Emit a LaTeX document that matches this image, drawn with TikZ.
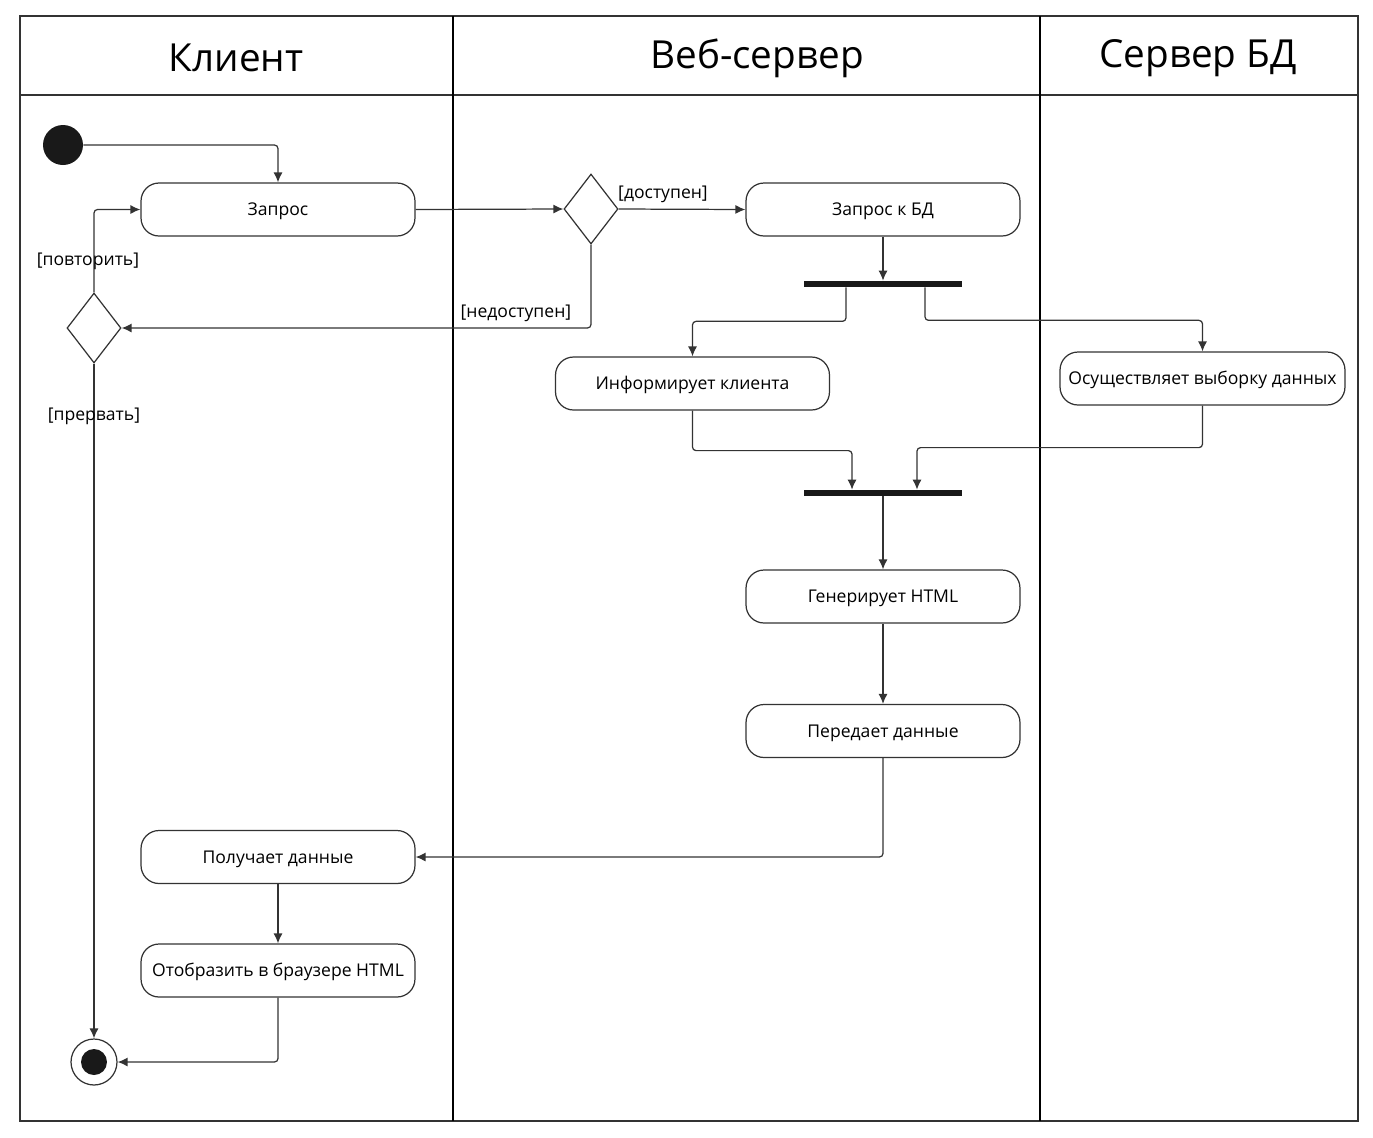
\documentclass[tikz,border=0pt]{standalone}
\usepackage{fontspec}
\setmainfont{Open Sans}
\usetikzlibrary{arrows.meta, positioning, shapes.geometric, calc}

\begin{document}
\begin{tikzpicture}[
    x=0.02cm, y=-0.02cm,
    action/.style={rectangle, rounded corners=0.36cm, draw=linecolor, line width=0.7pt, minimum width=5.48cm, minimum height=1.06cm, inner sep=1pt, text height=0.72em, text depth=0pt, font=\fontsize{10}{12}\selectfont},
    decision/.style={diamond, draw=linecolor, line width=0.7pt, minimum width=1.08cm, minimum height=1.4cm, inner sep=0pt},
    bar/.style={rectangle, fill=barcolor, minimum width=3.16cm, minimum height=0.12cm, inner sep=0pt},
    startnode/.style={circle, fill=barcolor, minimum size=0.8cm, inner sep=0pt},
    endnode/.style={circle, draw=linecolor, line width=0.7pt, minimum size=0.92cm, inner sep=0pt, path picture={\fill[barcolor] (path picture bounding box.center) circle (0.26cm);}},
    arrow/.style={-{Latex[length=2mm, width=1.8mm]}, line width=0.7pt, draw=linecolor, rounded corners=2pt},
    guard/.style={font=\fontsize{10}{12}\selectfont, text=black},
    header/.style={font=\fontsize{22}{26}\selectfont},
    lane/.style={line width=1.3pt, black},
    frame/.style={line width=0.9pt, black!80}
]

% Colors
\definecolor{linecolor}{RGB}{51, 51, 51}
\definecolor{barcolor}{RGB}{25, 25, 25}

\useasboundingbox (0,0) rectangle (1373,1137);

% Swimlanes
\draw[frame] (20,16) rectangle (1358,1121);
\draw[frame] (20,95) -- (1358,95);
\draw[lane] (453,16) -- (453,1121);
\draw[lane] (1040,16) -- (1040,1121);

\node[header] (hclient) at (236,58) {Клиент};
\node[header] (hweb) at (757,58) {Веб-сервер};
\node[header] (hdb) at (1198,58) {Сервер БД};

% Client lane
\node[startnode] (start) at (63,145) {};
\node[action] (request) at (278,209.5) {Запрос};
\node[decision] (retry) at (94,328) {};
\node[action] (receive) at (278,857) {Получает данные};
\node[action] (display) at (278,970.5) {Отобразить в браузере HTML};
\node[endnode] (finish) at (94,1062) {};

% Web server lane
\node[decision] (check) at (591,209) {};
\node[action] (dbquery) at (883,209.5) {Запрос к БД};
\node[bar] (fork) at (883,284) {};
\node[action] (inform) at (692.5,383.5) {Информирует клиента};
\node[bar] (join) at (883,493) {};
\node[action] (genhtml) at (883,596.5) {Генерирует HTML};
\node[action] (send) at (883,731) {Передает данные};

% DB server lane
\node[action, minimum width=5.7cm] (select) at (1202.5,378.5) {Осуществляет выборку данных};

% Flows
\draw[arrow] (start.east) -| (request.north);
\draw[arrow] (request.east) -- (check.west);
\draw[arrow] (check.east) -- node[guard, pos=0.35, above] (lavail) {[доступен]} (dbquery.west);
\draw[arrow] (check.south) |- node[guard, pos=0.58, above] (lnotavail) {[недоступен]} (retry.east);
\draw[arrow] (retry.north) |- node[guard, pos=0.19, xshift=-0.12cm] (lretry) {[повторить]} (request.west);
\draw[arrow] (retry.south) -- node[guard, pos=0.078] (labort) {[прервать]} (finish.north);
\draw[arrow] (dbquery.south) -- (fork.north);
\draw[arrow] ([xshift=-0.74cm]fork.south) -- ++(0,34) -| (inform.north);
\draw[arrow] ([xshift=0.84cm]fork.south) -- ++(0,33) -| (select.north);
\draw[arrow] (inform.south) -- ++(0,40) -| ([xshift=-0.62cm]join.north);
\draw[arrow] (select.south) -- ++(0,42) -| ([xshift=0.68cm]join.north);
\draw[arrow] (join.south) -- (genhtml.north);
\draw[arrow] (genhtml.south) -- (send.north);
\draw[arrow] (send.south) |- (receive.east);
\draw[arrow] (receive.south) -- (display.north);
\draw[arrow] (display.south) |- (finish.east);

\end{tikzpicture}
\end{document}
